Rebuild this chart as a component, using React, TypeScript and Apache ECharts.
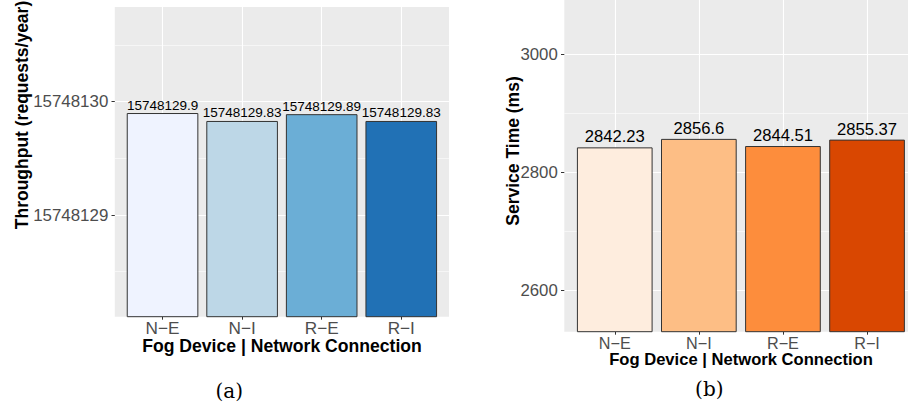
import React, { useEffect, useRef } from "react";
import * as echarts from "echarts";

// ---------- data ----------
const categories = ["N−E", "N−I", "R−E", "R−I"];
const throughputValues = [15748129.9, 15748129.83, 15748129.89, 15748129.83];
const serviceTimeValues = [2842.23, 2856.6, 2844.51, 2855.37];
const throughputTicks = [15748129, 15748130];
const serviceTimeTicks = [2600, 2800, 3000];
const blues = ["#EFF3FF", "#BDD7E7", "#6BAED6", "#2171B5"];
const oranges = ["#FEEDDE", "#FDBE85", "#FD8D3C", "#D94701"];
const xTitle = "Fog Device | Network Connection";
const yTitleA = "Throughput (requests/year)";
const yTitleB = "Service Time (ms)";

const SANS = "Liberation Sans, Arial, Helvetica, sans-serif";
const W = 908;
const H = 404;

function buildOption() {
  // panel geometry (pixels)
  const L = { x0: 114.8, x1: 449, y0: 7, y1: 316.7 };
  const R = { x0: 564.3, x1: 917.5, y0: 0, y1: 331.7 };
  const catPositions = categories.map((_, i) => i + 1);

  const gridBase = { containLabel: false, outerBoundsMode: "none" };
  const grids = [
    // 0: left gridlines (y axis extends beyond the panel)
    { ...gridBase, left: L.x0, right: W - L.x1, top: -11.6, bottom: H - 328.3 },
    // 1: left bars (exactly the panel)
    { ...gridBase, left: L.x0, right: W - L.x1, top: L.y0, bottom: H - L.y1 },
    // 2: right gridlines
    { ...gridBase, left: R.x0, right: W - R.x1, top: -63.7, bottom: H - 408.3 },
    // 3: right bars
    { ...gridBase, left: R.x0, right: W - R.x1, top: R.y0, bottom: H - R.y1 },
  ];

  const hiddenX = (gi: number) => ({
    type: "value",
    gridIndex: gi,
    min: 0,
    max: 1,
    show: false,
  });

  const catX = (gi: number, fontSize: number) => ({
    type: "value",
    gridIndex: gi,
    min: 0.4,
    max: 4.6,
    axisLine: { show: false },
    axisTick: {
      show: true,
      length: 3,
      customValues: catPositions,
      lineStyle: { color: "#333333", width: 1 },
    },
    axisLabel: {
      show: true,
      customValues: catPositions,
      margin: 3,
      lineHeight: 16,
      color: "#4D4D4D",
      fontSize,
      fontFamily: SANS,
      formatter: (v: number) => categories[Math.round(v) - 1] ?? "",
    },
    splitLine: { show: true, lineStyle: { color: "#FFFFFF", width: 1.1 } },
  });

  const lineY = (gi: number, min: number, max: number, interval: number, ticks: number[], fontSize: number) => ({
    type: "value",
    gridIndex: gi,
    min,
    max,
    interval,
    axisLine: { show: false },
    axisTick: { show: true, length: 3.3, customValues: ticks, lineStyle: { color: "#333333", width: 1 } },
    axisLabel: {
      show: true,
      customValues: ticks,
      margin: 6.5,
      color: "#4D4D4D",
      fontSize,
      fontFamily: SANS,
      formatter: (v: number) => String(v),
    },
    splitLine: { show: true, lineStyle: { color: "#FFFFFF", width: 1.1 } },
    minorTick: { show: false, splitNumber: 2 },
    minorSplitLine: { show: true, lineStyle: { color: "#FFFFFF", width: 0.55 } },
  });

  const barY = (gi: number, min: number, max: number) => ({
    type: "value",
    gridIndex: gi,
    min,
    max,
    show: false,
    splitLine: { show: false },
  });

  const barSeries = (xi: number, yi: number, values: number[], colors: string[], fontSize: number, distance: number) => ({
    type: "bar",
    xAxisIndex: xi,
    yAxisIndex: yi,
    barWidth: "90%",
    clip: true,
    z: 3,
    data: values.map((v, i) => ({
      value: [catPositions[i], v],
      itemStyle: { color: colors[i], borderColor: "#333333", borderWidth: 1 },
    })),
    label: {
      show: true,
      position: "top",
      distance,
      color: "#000000",
      fontSize,
      fontFamily: SANS,
      formatter: (p: any) => String(p.value[1]),
    },
  });

  const text = (x: number, y: number, t: string, font: string, rotation = 0, lineHeight = 16) => ({
    type: "text",
    x,
    y,
    rotation,
    z: 5,
    style: {
      text: t,
      font,
      fill: "#000000",
      lineHeight,
      textAlign: "center",
      textVerticalAlign: "middle",
    },
  });

  return {
    animation: false,
    backgroundColor: "#FFFFFF",
    grid: grids,
    xAxis: [hiddenX(0), catX(1, 17.2), hiddenX(2), catX(3, 16.2)],
    yAxis: [
      lineY(0, 15748128, 15748131, 1, throughputTicks, 16.9),
      barY(1, 15748128.1024, 15748130.8358),
      lineY(2, 2400, 3200, 200, serviceTimeTicks, 16.8),
      barY(3, 2529.8, 3092),
    ],
    series: [
      barSeries(1, 1, throughputValues, blues, 13.5, 1),
      barSeries(3, 3, serviceTimeValues, oranges, 16.6, 2),
    ],
    graphic: [
      {
        type: "rect",
        z: -1,
        shape: { x: L.x0, y: L.y0, width: L.x1 - L.x0, height: L.y1 - L.y0 },
        style: { fill: "#EBEBEB" },
        silent: true,
      },
      {
        type: "rect",
        z: -1,
        shape: { x: R.x0, y: R.y0, width: R.x1 - R.x0, height: R.y1 - R.y0 },
        style: { fill: "#EBEBEB" },
        silent: true,
      },
      text(22, 115, yTitleA, `bold 17.5px ${SANS}`, Math.PI / 2, 18),
      text(282, 346, xTitle, `bold 17.6px ${SANS}`),
      text(513, 151, yTitleB, `bold 17.5px ${SANS}`, Math.PI / 2, 18),
      text(741, 359.6, xTitle, `bold 16.6px ${SANS}`),
      text(229.3, 390.5, "(a)", `20px DejaVu Serif, Liberation Serif, serif`, 0, 20),
      text(709.3, 389, "(b)", `20px DejaVu Serif, Liberation Serif, serif`, 0, 20),
    ],
  };
}

export default function App() {
  const ref = useRef<HTMLDivElement>(null);
  useEffect(() => {
    if (!ref.current) return;
    const chart = echarts.init(ref.current, undefined, { renderer: "svg" });
    chart.setOption(buildOption() as any);
    return () => {
      chart.dispose();
    };
  }, []);
  return (
    <div
      ref={ref}
      style={{ position: "fixed", left: 0, top: 0, width: W, height: H, background: "#FFFFFF" }}
    />
  );
}
